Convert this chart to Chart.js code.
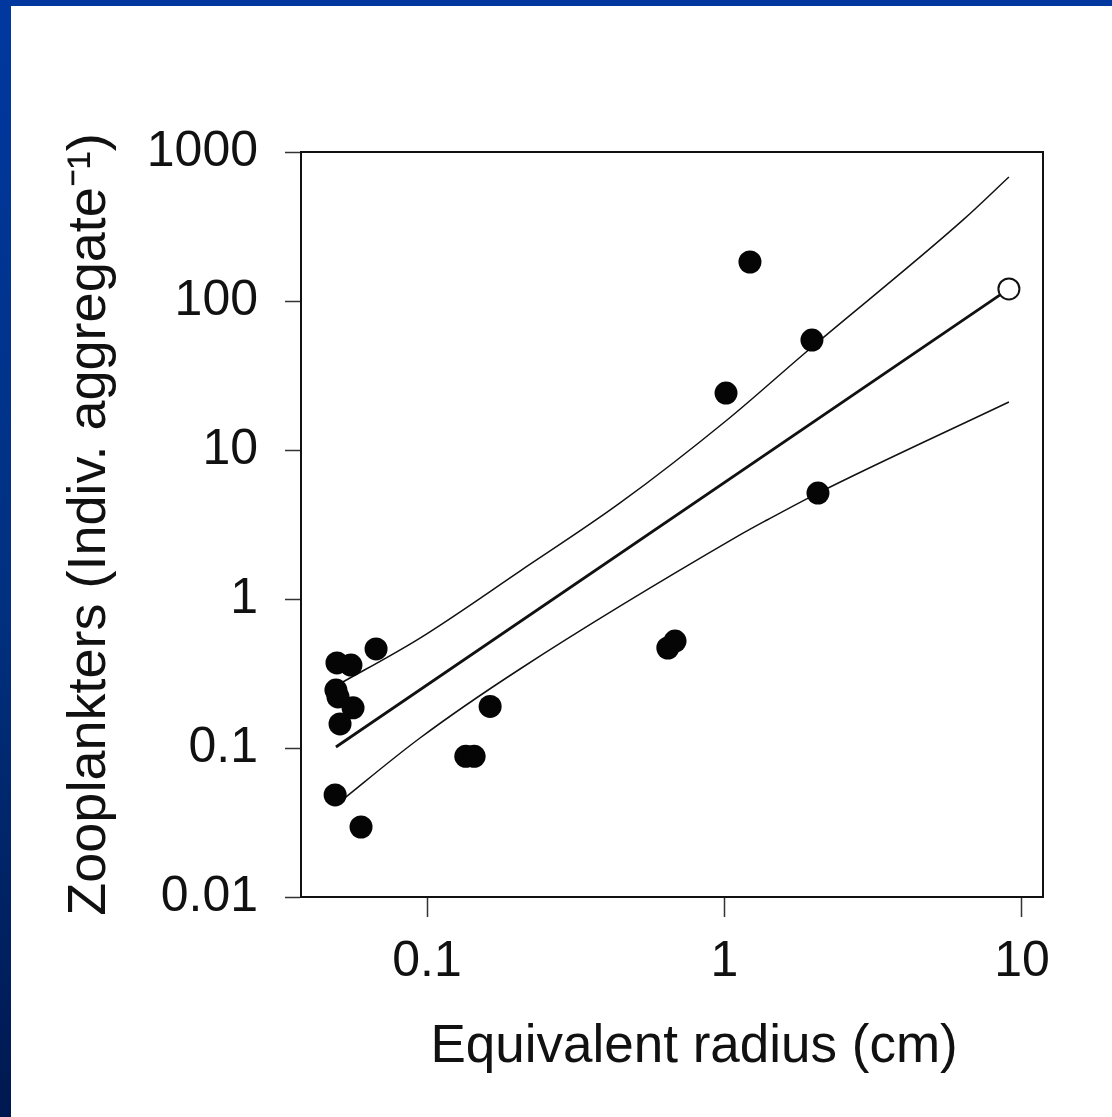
<!DOCTYPE html>
<html>
<head>
<meta charset="utf-8">
<script src="https://cdn.jsdelivr.net/npm/chart.js@4/dist/chart.umd.min.js"></script>
<style>
  html, body { margin: 0; padding: 0; background: #ffffff; }
  #wrap { position: relative; width: 1112px; height: 1117px; overflow: hidden; }
  #c { position: absolute; left: 0; top: 0; }
  #bl { position: absolute; left: 0; top: 0; width: 11px; height: 1117px;
        background: linear-gradient(to bottom, #0038a0 0%, #00307f 55%, #001850 100%); }
  #bt { position: absolute; left: 0; top: 0; width: 1112px; height: 6px; background: #0038a0; }
</style>
</head>
<body>
<div id="wrap">
  <canvas id="c" width="1112" height="1117"></canvas>
  <div id="bl"></div>
  <div id="bt"></div>
</div>
<script>
// ---- data ----
const xTickValues = [0.1, 1, 10];
const xTickLabels = ['0.1', '1', '10'];
const yTickValues = [0.01, 0.1, 1, 10, 100, 1000];
const yTickLabels = ['0.01', '0.1', '1', '10', '100', '1000'];

const obsX = [0.0674, 0.0498, 0.0555, 0.0494, 0.0502, 0.0564, 0.0510, 0.163, 0.135, 0.144, 0.0491, 0.060, 0.645, 0.682, 1.218, 1.968, 1.012, 2.062];
const obsY = [0.462, 0.372, 0.360, 0.245, 0.220, 0.186, 0.145, 0.19, 0.088, 0.088, 0.0484, 0.0295, 0.469, 0.522, 182.7, 54.7, 24.1, 5.14];

const openX = [9.04];
const openY = [120.4];

const fitX = [0.0494, 9.04];
const fitY = [0.1016, 120.5];

const upperX = [0.0494, 0.0947, 0.2054, 0.4455, 1.02, 1.865, 6.34, 9.04];
const upperY = [0.261, 0.547, 1.54, 4.41, 15.9, 44.8, 350, 679];

const lowerX = [0.0494, 0.0947, 0.2054, 1.127, 1.39, 2.062, 9.04];
const lowerY = [0.0414, 0.1167, 0.339, 2.69, 3.39, 5.14, 21.0];

const xTitle = '\u00A0\u00A0\u00A0Equivalent radius (cm)';
const yTitle = 'Zooplankters (Indiv. aggregate\u207B\u00B9)';

const pts = (xs, ys) => xs.map((x, i) => ({ x: x, y: ys[i] }));

const FONT = "'Liberation Sans', Arial, Helvetica, sans-serif";
const INK = '#111111';

const boxPlugin = {
  id: 'box',
  afterDraw(chart) {
    const a = chart.chartArea;
    const ctx = chart.ctx;
    ctx.save();
    ctx.strokeStyle = INK;
    ctx.lineWidth = 2;
    ctx.strokeRect(a.left, a.top, a.right - a.left, a.bottom - a.top);
    ctx.restore();
  }
};

new Chart(document.getElementById('c'), {
  type: 'scatter',
  data: {
    datasets: [
      { label: 'observed', data: pts(obsX, obsY), pointRadius: 11.5, pointHoverRadius: 11.5,
        backgroundColor: '#050505', borderColor: '#050505', borderWidth: 0, order: 0 },
      { label: 'open', data: pts(openX, openY), pointRadius: 10.5, pointHoverRadius: 10.5,
        backgroundColor: '#ffffff', borderColor: INK, borderWidth: 2, order: 0 },
      { label: 'fit', type: 'line', data: pts(fitX, fitY), showLine: true, pointRadius: 0,
        borderColor: INK, borderWidth: 2.8, fill: false, order: 1 },
      { label: 'upper', type: 'line', data: pts(upperX, upperY), showLine: true, pointRadius: 0,
        borderColor: INK, borderWidth: 1.5, fill: false, cubicInterpolationMode: 'monotone', order: 1 },
      { label: 'lower', type: 'line', data: pts(lowerX, lowerY), showLine: true, pointRadius: 0,
        borderColor: INK, borderWidth: 1.5, fill: false, cubicInterpolationMode: 'monotone', order: 1 }
    ]
  },
  options: {
    responsive: false,
    animation: false,
    devicePixelRatio: 1,
    layout: { padding: { top: 152, right: 69, left: 58, bottom: 38 } },
    plugins: { legend: { display: false }, tooltip: { enabled: false } },
    scales: {
      x: {
        type: 'logarithmic',
        position: 'bottom',
        min: 0.0377,
        max: 11.77,
        afterBuildTicks(scale) { scale.ticks = xTickValues.map(v => ({ value: v })); },
        afterFit(scale) { scale.height = 182; },
        ticks: {
          callback: (v, i) => xTickLabels[i],
          font: { family: FONT, size: 50 },
          color: INK,
          padding: 15,
          maxRotation: 0,
          autoSkip: false
        },
        grid: { display: true, drawOnChartArea: false, drawTicks: true, tickLength: 20,
                tickWidth: 1.5, tickColor: '#333333' },
        border: { display: true, color: INK, width: 2 },
        title: { display: true, text: xTitle, color: INK,
                 font: { family: FONT, size: 53 }, padding: 0 }
      },
      y: {
        type: 'logarithmic',
        position: 'left',
        min: 0.01,
        max: 1000,
        afterBuildTicks(scale) { scale.ticks = yTickValues.map(v => ({ value: v })); },
        afterFit(scale) { scale.width = 243; },
        ticks: {
          callback: (v, i) => yTickLabels[i],
          font: { family: FONT, size: 50 },
          color: INK,
          padding: 27,
          autoSkip: false
        },
        grid: { display: true, drawOnChartArea: false, drawTicks: true, tickLength: 16,
                tickWidth: 1.5, tickColor: '#333333' },
        border: { display: true, color: INK, width: 2 },
        title: { display: true, text: yTitle, color: INK,
                 font: { family: FONT, size: 54 }, padding: 0 }
      }
    }
  },
  plugins: [boxPlugin]
});
</script>
</body>
</html>
